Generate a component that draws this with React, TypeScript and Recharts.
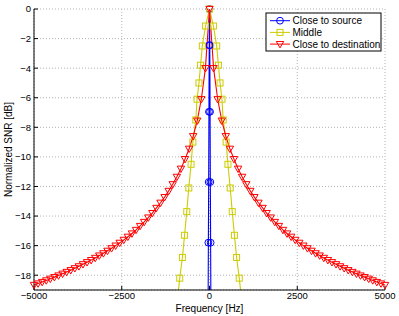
import React from 'react';
import { LineChart, Line, XAxis, YAxis, CartesianGrid } from 'recharts';

// Right half of each curve (the chart is symmetric about 0 Hz)
const RED_F = [0, 116, 233, 349, 465, 581, 698, 814, 930, 1047, 1163, 1279, 1395, 1512, 1628,
  1744, 1860, 1977, 2093, 2209, 2326, 2442, 2558, 2674, 2791, 2907, 3023, 3140, 3256, 3372,
  3488, 3605, 3721, 3837, 3953, 4070, 4186, 4302, 4419, 4535, 4651, 4767, 4884, 5000];
const RED_DB = [0, -4.0, -6.1, -7.55, -8.6, -9.45, -10.15, -10.8, -11.35, -11.85, -12.3, -12.72,
  -13.1, -13.45, -13.8, -14.1, -14.4, -14.67, -14.94, -15.18, -15.4, -15.61, -15.81, -16.0,
  -16.18, -16.35, -16.52, -16.67, -16.83, -16.98, -17.12, -17.26, -17.4, -17.53, -17.66,
  -17.78, -17.9, -18.02, -18.13, -18.24, -18.35, -18.46, -18.56, -18.66];

const YELLOW_F = [0, 112, 205, 255, 300, 355, 390, 474, 525, 590, 648, 710, 772, 848, 915];
const YELLOW_DB = [0, -1.15, -2.5, -3.8, -5.0, -6.1, -7.5, -9.0, -10.5, -12.1, -13.7, -15.3,
  -16.8, -18.2, -19.7];

const BLUE_F = [0, 8, 16, 24, 32, 40];
const BLUE_DB = [0, -2.45, -6.95, -11.7, -15.8, -20.3];

const X_TICKS = [-5000, -2500, 0, 2500, 5000];
const Y_TICKS = [0, -2, -4, -6, -8, -10, -12, -14, -16, -18];

const RED = '#FF0000';
const YELLOW = '#CCCC00';
const BLUE = '#0000FF';
const FONT = '"Liberation Sans", Arial, Helvetica, sans-serif';

const mirror = (f: number[], db: number[]) => {
  const left = f.slice(1).map((v, i) => ({ f: -v, db: db[i + 1] })).reverse();
  const right = f.map((v, i) => ({ f: v, db: db[i] }));
  return [...left, ...right];
};

const redData = mirror(RED_F, RED_DB);
const yellowData = mirror(YELLOW_F, YELLOW_DB);
const blueData = mirror(BLUE_F, BLUE_DB);

// markers only for points inside the visible range, so they are not clipped at the edges
const inRange = (d: { f: number; db: number }[]) => d.filter(p => p.db >= -19);

const fmt = (v: number) => (v < 0 ? `\u2212${Math.abs(v)}` : `${v}`);

const Circle = ({ cx, cy, color }: any) => (
  <circle cx={cx} cy={cy} r={3.4} fill="none" stroke={color} strokeWidth={1} />
);
const Square = ({ cx, cy, color }: any) => (
  <rect x={cx - 3} y={cy - 3} width={6} height={6} fill="none" stroke={color} strokeWidth={1} />
);
const Triangle = ({ cx, cy, color }: any) => (
  <polygon
    points={`${cx - 3.7},${cy - 2.6} ${cx + 3.7},${cy - 2.6} ${cx},${cy + 3.8}`}
    fill="none"
    stroke={color}
    strokeWidth={1}
  />
);

const LegendBox = () => (
  <svg width={117} height={40} style={{ position: 'absolute', left: 265, top: 12 }}>
    <rect x={1} y={1} width={115} height={38} fill="#fff" stroke="#000" strokeWidth={1} />
    {[
      { label: 'Close to source', color: BLUE, Mark: Circle },
      { label: 'Middle', color: YELLOW, Mark: Square },
      { label: 'Close to destination', color: RED, Mark: Triangle },
    ].map((e, i) => {
      const y = 8.7 + i * 11.7;
      return (
        <g key={e.label}>
          <line x1={5} x2={25} y1={y} y2={y} stroke={e.color} strokeWidth={1} />
          <e.Mark cx={15} cy={y} color={e.color} />
          <text x={27.5} y={y + 3.6} fontSize={10} fontFamily={FONT} fill="#000">
            {e.label}
          </text>
        </g>
      );
    })}
  </svg>
);

const series = [
  { key: 'blue', data: blueData, color: BLUE, Mark: Circle },
  { key: 'yellow', data: yellowData, color: YELLOW, Mark: Square },
  { key: 'red', data: redData, color: RED, Mark: Triangle },
];

export default function App() {
  return (
    <div style={{ position: 'absolute', left: 0, top: 0, width: 399, height: 316, background: '#fff' }}>
      <LineChart width={399} height={316} margin={{ top: 9, right: 14, bottom: 0, left: 0 }}>
        <CartesianGrid stroke="#b4b4b4" strokeDasharray="1 2" />
        <XAxis
          type="number"
          dataKey="f"
          domain={[-5000, 5000]}
          ticks={X_TICKS}
          allowDataOverflow
          height={26}
          tickSize={-4}
          tickMargin={6}
          tickFormatter={fmt}
          axisLine={{ stroke: '#000' }}
          tickLine={{ stroke: '#000' }}
          tick={{ fontSize: 9.5, fill: '#000', fontFamily: FONT }}
          label={{ value: 'Frequency [Hz]', position: 'insideBottom', offset: 4, fontSize: 10, fill: '#000', fontFamily: FONT }}
        />
        <XAxis
          xAxisId="t"
          type="number"
          dataKey="f"
          orientation="top"
          domain={[-5000, 5000]}
          ticks={X_TICKS}
          height={0}
          tickSize={-4}
          tick={false}
          axisLine={{ stroke: '#808080', strokeWidth: 2 }}
          tickLine={{ stroke: '#000' }}
        />
        <YAxis
          type="number"
          domain={[-19, 0]}
          ticks={Y_TICKS}
          allowDataOverflow
          width={34}
          tickSize={-4}
          tickMargin={7}
          tickFormatter={fmt}
          axisLine={{ stroke: '#000' }}
          tickLine={{ stroke: '#000' }}
          tick={{ fontSize: 9.5, fill: '#000', fontFamily: FONT }}
          label={{
            value: 'Normalized SNR [dB]',
            angle: -90,
            position: 'insideLeft',
            offset: 8,
            fontSize: 10,
            fill: '#000',
            fontFamily: FONT,
            style: { textAnchor: 'middle' },
          }}
        />
        <YAxis
          yAxisId="r"
          type="number"
          orientation="right"
          domain={[-19, 0]}
          ticks={Y_TICKS}
          width={0}
          tickSize={-4}
          tick={false}
          axisLine={{ stroke: '#000' }}
          tickLine={{ stroke: '#000' }}
        />
        {series.map(s => (
          <Line
            key={s.key}
            data={s.data}
            dataKey="db"
            type="linear"
            stroke={s.color}
            strokeWidth={1.1}
            dot={false}
            activeDot={false}
            isAnimationActive={false}
          />
        ))}
        {series.map(s => (
          <Line
            key={`${s.key}-marks`}
            data={inRange(s.data)}
            xAxisId="t"
            yAxisId="r"
            dataKey="db"
            stroke="none"
            dot={(p: any) => <s.Mark key={`${s.key}-${p.index}`} cx={p.cx} cy={p.cy} color={s.color} />}
            activeDot={false}
            isAnimationActive={false}
          />
        ))}
      </LineChart>
      <LegendBox />
    </div>
  );
}
